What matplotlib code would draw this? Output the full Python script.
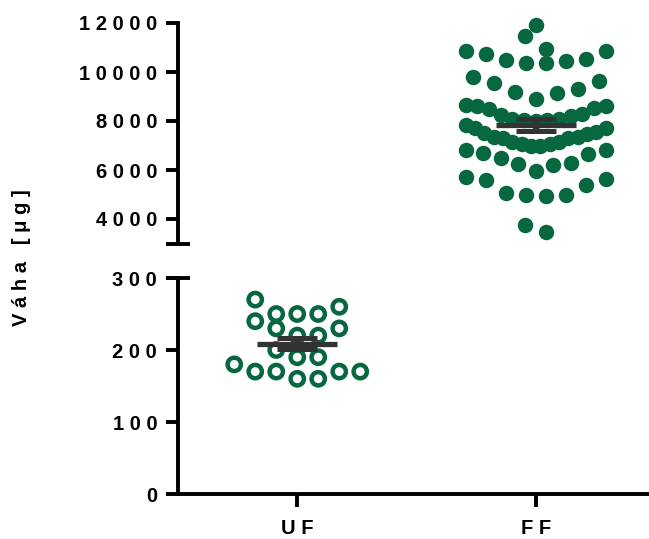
import numpy as np
import matplotlib
matplotlib.use("Agg")
import matplotlib.pyplot as plt
from matplotlib.ticker import FuncFormatter

# data
groups = ['UF', 'FF']
uf_values = [260, 250, 240, 230, 250, 250, 270, 220, 220, 230,
             200, 190, 190, 180, 170, 170, 160, 160, 170, 170]
ff_values = [11900, 11450, 10950, 10500, 10850, 10750, 10850, 10350, 10350, 10450,
             10550, 9650, 9800, 9300, 9150, 8900, 9200, 9550,
             8650, 8600, 8500, 8250, 8100, 8050, 8000, 8050, 8100, 8200, 8300, 8550, 8600,
             7850, 7700, 7500, 7350, 7300, 7150, 7050, 7000, 7000, 7050, 7150, 7300,
             7350, 7450, 7550, 7700,
             6800, 6700, 6500, 6250, 5950, 6200, 6300, 6650, 6800,
             5700, 5600, 5050, 5000, 4950, 5000, 5400, 5650,
             3450, 3750]
top_ticks = [4000, 6000, 8000, 10000, 12000]
bottom_ticks = [0, 100, 200, 300]
ylabel = 'Váha [μg]'

green = '#07673f'
dark = '#333333'
plt.rcParams['font.family'] = ['Liberation Sans', 'DejaVu Sans']
plt.rcParams['font.weight'] = 'bold'

W, H = 649, 539
fig = plt.figure(figsize=(W / 100, H / 100), dpi=100)
left, width = 178 / W, 477 / W
ax_top = fig.add_axes([left, (H - 243.5) / H, width, 220.5 / H])
ax_bot = fig.add_axes([left, (H - 494) / H, width, 216 / H])

ax_top.set_xlim(-0.5, 1.5)
ax_bot.set_xlim(-0.5, 1.5)
ax_top.set_ylim(3000, 12000)
ax_bot.set_ylim(0, 300)

px_per_unit = 477 / 2.0


def row_scatter(xc, vals, bin_size, origin, max_gap=21, max_width=140):
    # GraphPad-like layout: values binned in rows, lowest in the middle
    vals = np.asarray(vals, float)
    xs = np.zeros(len(vals))
    bins = np.floor((vals - origin) / bin_size)
    for b in np.unique(bins):
        idx = np.where(bins == b)[0]
        idx = idx[np.argsort(vals[idx], kind='stable')]
        n = len(idx)
        gap = max_gap if n < 2 else min(max_gap, max_width / (n - 1))
        offs = (np.arange(n) - (n - 1) / 2) * gap
        offs = sorted(offs, key=lambda o: (round(abs(o), 6), -o))
        for i, o in zip(idx, offs):
            xs[i] = xc + o / px_per_unit
    return xs


def mean_sem(ax, xc, vals):
    m = np.mean(vals)
    s = np.std(vals, ddof=1) / np.sqrt(len(vals))
    ax.vlines(xc, m - s, m + s, color=dark, lw=4, zorder=5)
    ax.hlines([m - s, m + s], xc - 0.084, xc + 0.084, color=dark, lw=3.6, zorder=5)
    ax.hlines(m, xc - 0.168, xc + 0.168, color=dark, lw=3.8, zorder=5)


xf = row_scatter(1, ff_values, 1000, 2900)
ax_top.scatter(xf, ff_values, s=124, color=green, linewidths=0, zorder=3,
               clip_on=False)
mean_sem(ax_top, 1, ff_values)

xu = row_scatter(0, uf_values, 30, 155)
ax_bot.scatter(xu, uf_values, s=92, facecolors='none', edgecolors=green,
               linewidths=3.2, zorder=3, clip_on=False)
mean_sem(ax_bot, 0, uf_values)

spaced = FuncFormatter(lambda v, p: ' '.join(str(int(v))))
for ax in (ax_top, ax_bot):
    for sp in ['top', 'right']:
        ax.spines[sp].set_visible(False)
    ax.spines['left'].set_linewidth(2.8)
    ax.tick_params(axis='y', length=9, width=2.8, labelsize=14.5, pad=6)
    ax.yaxis.set_major_formatter(spaced)
    ax.patch.set_alpha(0)

ax_top.spines['bottom'].set_visible(False)
ax_top.set_xticks([])
ax_top.set_yticks(top_ticks)
ax_bot.set_yticks(bottom_ticks)
ax_bot.spines['bottom'].set_linewidth(2.8)
ax_bot.set_xticks([0, 1])
ax_bot.set_xticklabels([' '.join(g) for g in groups])
ax_bot.tick_params(axis='x', length=9, width=2.8, labelsize=14.5, pad=9)

# axis break caps
cap = 12 / 477
ax_top.plot([-cap, cap], [0, 0], transform=ax_top.transAxes, color='black',
            lw=2.8, clip_on=False, solid_capstyle='butt')
ax_bot.plot([-cap, cap], [1, 1], transform=ax_bot.transAxes, color='black',
            lw=2.8, clip_on=False, solid_capstyle='butt')

fig.text(22 / W, (H - 258) / H, ' '.join(ylabel), rotation=90, ha='center',
         va='center', fontsize=14.5, fontweight='bold')

fig.savefig('out.png', dpi=100)
